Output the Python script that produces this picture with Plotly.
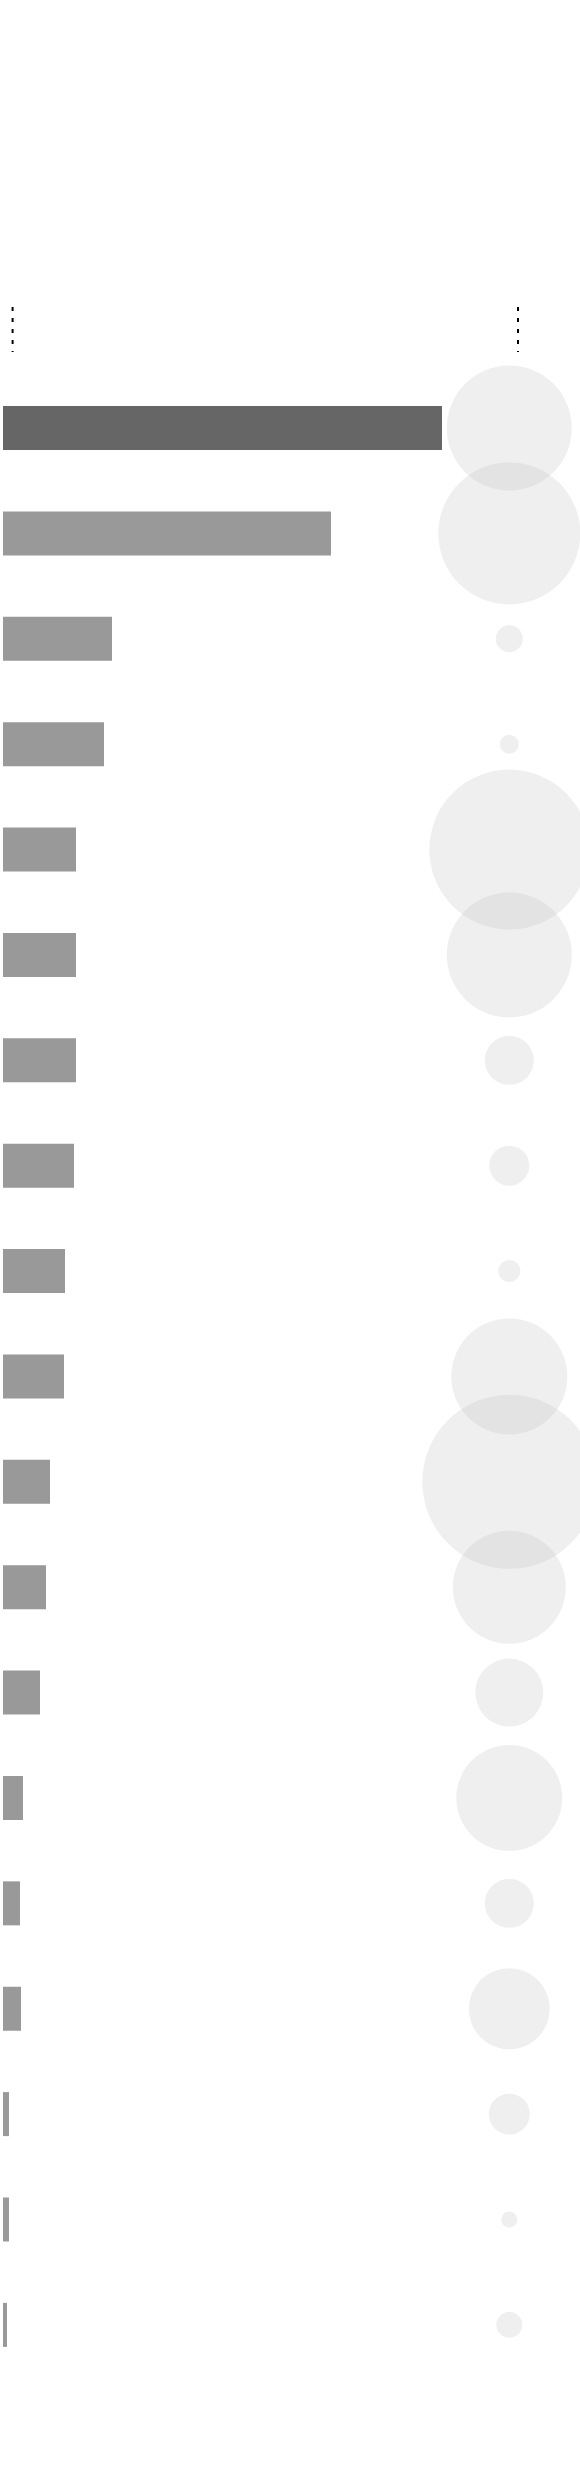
import plotly.graph_objects as go

# bar lengths (px-scale units) and bubble diameters, one per row, top to bottom
rows = list(range(19))
bar_values = [439, 328, 109, 101, 73, 73, 73, 71, 62, 61, 47, 43, 37, 20, 17, 18, 6, 6, 4]
bubble_sizes = [125, 142, 27, 19, 160, 125, 49, 40, 22, 116, 174, 113, 68, 106, 49, 81, 41, 16, 26]
highlight = 0  # first row drawn darker

W, H = 580, 2488
BUBBLE_X = 506.3
TICKS_X = [9.6, 515]

bar_colors = ["#666666" if i == highlight else "#999999" for i in rows]

fig = go.Figure()
fig.add_trace(go.Bar(
    x=bar_values, y=rows, orientation="h",
    width=0.4175, marker=dict(color=bar_colors, line=dict(width=0)),
    hoverinfo="skip",
))
fig.add_trace(go.Scatter(
    x=[BUBBLE_X] * len(rows), y=rows, mode="markers",
    marker=dict(size=bubble_sizes, sizemode="diameter", color="rgba(190,190,190,0.34)",
                line=dict(width=0)),
    hoverinfo="skip",
))

for tx in TICKS_X:
    fig.add_shape(type="line", x0=tx, x1=tx, y0=-1.148, y1=-0.721,
                  line=dict(color="black", width=2, dash="4px,7px"))

# row pitch ~105.4px, first row centred ~428px from the top
fig.update_layout(
    width=W, height=H,
    margin=dict(l=0, r=0, t=0, b=0),
    paper_bgcolor="white", plot_bgcolor="white",
    showlegend=False,
    xaxis=dict(range=[-3, W - 3], visible=False, fixedrange=True),
    yaxis=dict(range=[19.548, -4.062], visible=False, fixedrange=True),
)

# drop the default page margin so the figure sits flush in the window
fig.write_html("out.html", config={"displayModeBar": False},
               post_script="document.body.style.margin='0';document.body.style.overflow='hidden';")
